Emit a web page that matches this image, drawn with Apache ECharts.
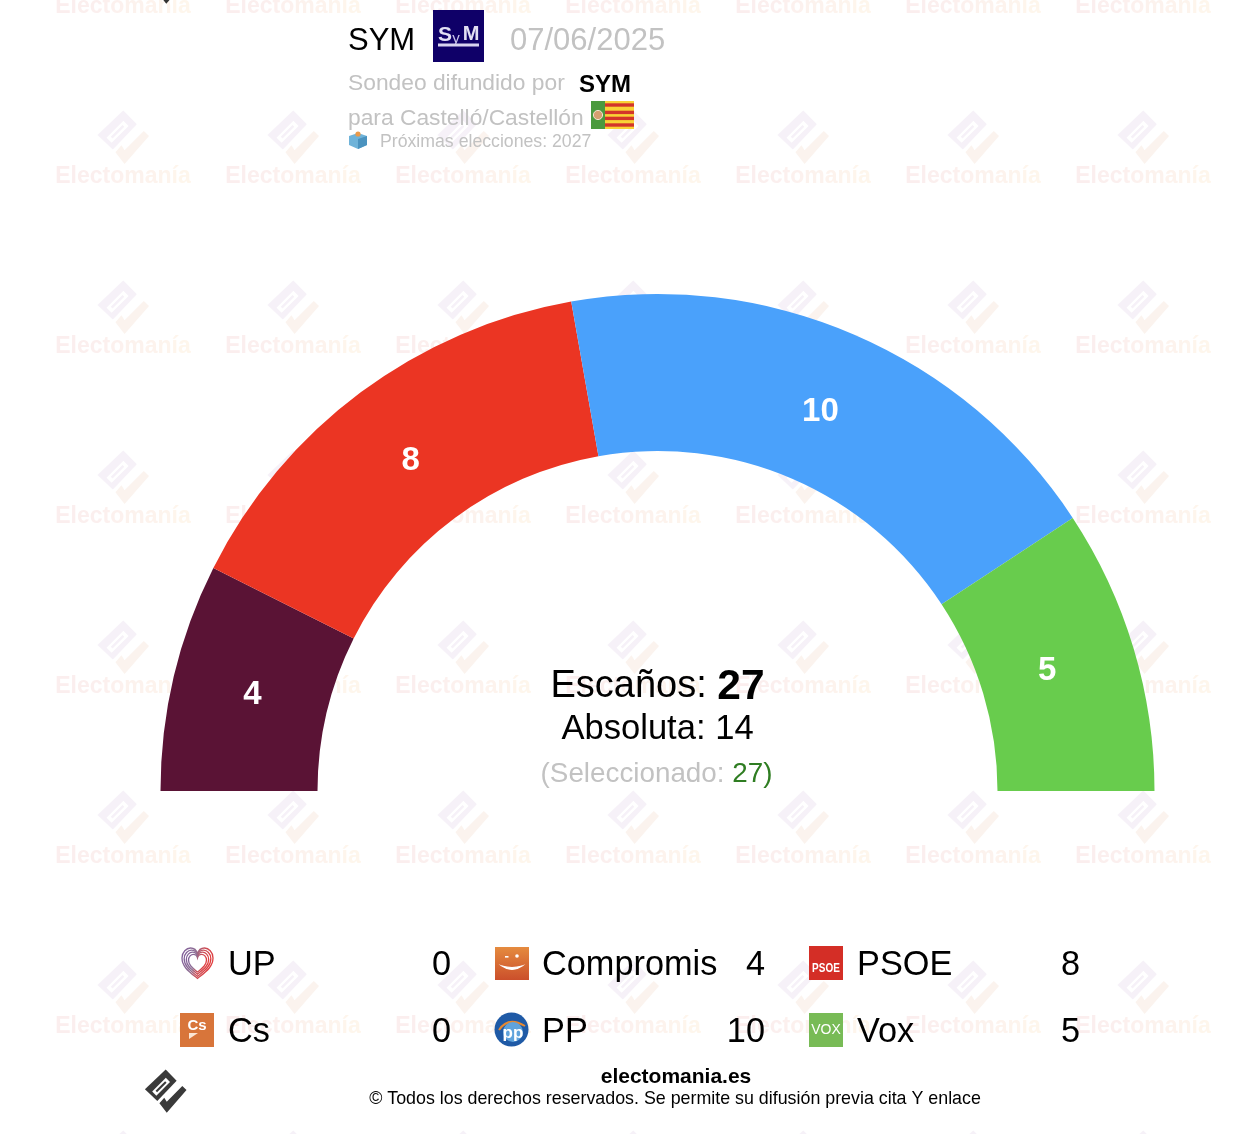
<!DOCTYPE html>
<html><head><meta charset="utf-8">
<style>html,body{margin:0;padding:0;background:#fff}#c{width:1236px;height:1134px}</style>
<script src="https://cdn.jsdelivr.net/npm/echarts@6/dist/echarts.min.js"></script>
</head><body><div id="c"></div>
<script>
const partyNames = ['UP','Compromis','PSOE','Cs','PP','Vox'];
const partySeats = [0,4,8,0,10,5];
const arcOrder = ['Compromis','PSOE','PP','Vox'];
const arcColors = ['#5A1335','#EB3523','#4AA1FB','#68CC4D'];
const totalSeats = 27, majority = 14, selected = 27;
const pollster = 'SYM', pollDate = '07/06/2025', place = 'para Castelló/Castellón', nextElection = 'Próximas elecciones: 2027';
const watermark = 'Electomanía';
const watermarkShades = ['#fbeeee','#fbeeee','#fbefee','#fbefee','#fcf0ee','#fcf1ee','#fcf2ed','#fdf3ed','#fdf4ed','#fef5ec','#fef6ec'];

const FONT = '"Liberation Sans", Arial, sans-serif';
const G = echarts.graphic;
const vGrad = (a,b)=>new G.LinearGradient(0,0,0,1,[{offset:0,color:a},{offset:1,color:b}]);
G.registerShape('heart', G.extendPath('M0,15.5 C-8,9 -15.5,4 -15.5,-5 C-15.5,-11 -11,-15 -7,-15 C-4,-15 -1,-13 0,-9 C1,-13 4,-15 7,-15 C11,-15 15.5,-11 15.5,-5 C15.5,4 8,9 0,15.5Z'));
G.registerShape('smile', G.extendPath('M502,966 Q512,973 522,966 Q512,969 502,966Z'));
G.registerShape('ppArc', G.extendPath('M499,1030 Q508,1016 525,1026'));
const els = [];
const txt = (x,y,text,size,fill,o={})=>els.push({type:'text',z:o.z||5,x,y,scaleY:o.sy||1,silent:true,style:Object.assign({text,fontFamily:FONT,fontSize:size,fontWeight:o.w||'normal',fill,align:o.a||'left',verticalAlign:'middle'},o.s||{})});
const rect = (x,y,w,h,fill,z=5)=>els.push({type:'rect',z,silent:true,shape:{x,y,width:w,height:h},style:{fill}});
const poly = (pts,fill,z=5)=>els.push({type:'polygon',z,silent:true,shape:{points:pts},style:{fill}});

function bar(cx,cy,L,S){const a=.707;return [[cx+L*a+S*a,cy-L*a+S*a],[cx+L*a-S*a,cy-L*a-S*a],[cx-L*a-S*a,cy+L*a-S*a],[cx-L*a+S*a,cy+L*a+S*a]];}
function logo(cx,cy,h,c1,c2,z){
  const p=a=>a.map(q=>[cx+q[0]*h,cy+q[1]*h]);
  poly(p([[.01,-1],[.53,-.47],[-.39,.5],[-.98,-.06]]),c1,z);
  poly(p(bar(-.21,-.18,.46,.14)),'#fff',z);
  poly(p(bar(-.21,-.18,.32,.05)),c1,z);
  poly(p([[1,-.02],[.8,-.21],[.06,.53],[-.06,.34],[-.29,.61],[.06,1.06]]),c2,z);
}
// watermark
const wmRich={};
watermarkShades.forEach((c,i)=>wmRich['k'+i]={fontFamily:FONT,fontSize:23,fontWeight:'bold',fill:c});
const wmText=[...watermark].map((ch,i)=>'{k'+i+'|'+ch+'}').join('');
for(let r=0;r<7;r++)for(let c=0;c<7;c++){
  const x=123+170*c,y=7+170*r;
  els.push({type:'text',z:1,silent:true,x,y,style:{text:wmText,align:'center',verticalAlign:'middle',fontFamily:FONT,rich:wmRich}});
  logo(x,y+129.5,26,'#f6f1f8','#fbf3ee',1);
}
logo(165,-18.5,21,'#333','#333',6);
logo(165.5,1090.5,21,'#3a3a3a','#3a3a3a',6);

// header
txt(348,41.5,pollster,31,'#000');
rect(433,10,51,52,'#0f0068');
txt(445,35,'S',21,'#e2dff3',{w:'bold',a:'center'});
txt(456,39,'y',15,'#c9c4ea',{a:'center'});
txt(471,34,'M',20,'#e2dff3',{w:'bold',a:'center'});
rect(438,43.5,41,3,'#d8d4ef');
txt(510,41.5,pollDate,31,'#c2c2c2');
txt(348,84,'Sondeo difundido por',22.8,'#c2c2c2');
txt(579,85,pollster,24,'#000',{w:'bold'});
txt(348,119,place,22.8,'#c2c2c2');
rect(591,101,43,28,'#f9d335');
[103.3,110.7,116.7,123.3].forEach(y=>rect(605,y,29,3.4,'#d3352a'));
rect(591,101,14,28,'#4b9a3e');
els.push({type:'circle',z:5,silent:true,shape:{cx:598,cy:115,r:4.6},style:{fill:'#d6a070',stroke:'#f3e3d0',lineWidth:1}});
// ballot box
poly([[349,136],[358,133],[367,136],[367,145],[358,149],[349,145]],'#6fb3d9');
poly([[358,139],[367,136],[367,145],[358,149]],'#4b93bf');
els.push({type:'circle',z:5,silent:true,shape:{cx:358,cy:134,r:2.6},style:{fill:'#ea9a4a'}});
txt(380,142,nextElection,17.7,'#c2c2c2');

// centre
els.push({type:'text',z:5,silent:true,x:657.5,y:687,style:{text:'{a|Escaños: }{b|'+totalSeats+'}',align:'center',verticalAlign:'middle',fontFamily:FONT,rich:{a:{fontFamily:FONT,fontSize:38,fill:'#000'},b:{fontFamily:FONT,fontSize:42.5,fontWeight:'bold',fill:'#000'}}}});
txt(657.5,729,'Absoluta: '+majority,34.6,'#000',{a:'center'});
els.push({type:'text',z:5,silent:true,x:656.5,y:774.5,style:{text:'{a|(Seleccionado: }{b|'+selected+'}{c|)}',align:'center',verticalAlign:'middle',fontFamily:FONT,rich:{a:{fontFamily:FONT,fontSize:27.8,fill:'#c2c2c2'},b:{fontFamily:FONT,fontSize:27.8,fill:'#2f7d22'},c:{fontFamily:FONT,fontSize:27.8,fill:'#2f7d22'}}}});

// legend
const nameX=[228,542,857], valX=[451,765,1080], rowY=[966,1033];
partyNames.forEach((n,i)=>{
  const c=i%3,r=Math.floor(i/3);
  txt(nameX[c],rowY[r],n,34.3,'#000');
  txt(valX[c],rowY[r],String(partySeats[i]),34.3,'#000',{a:'right'});
});
// UP heart
[1,.86,.72,.58].forEach(s=>els.push({type:'heart',z:5,silent:true,x:197.5,y:963,scaleX:s,scaleY:s,shape:{},style:{fill:'none',lineWidth:1.3/s,stroke:new G.LinearGradient(0,0,1,.3,[{offset:0,color:'#7d5a9e'},{offset:.45,color:'#8f6f93'},{offset:.65,color:'#c9505a'},{offset:1,color:'#e23b3b'}])}}));
// Compromis
els.push({type:'rect',z:5,silent:true,shape:{x:495,y:947,width:34,height:33},style:{fill:vGrad('#e58b3f','#cb4f2b')}});
els.push({type:'smile',z:5,silent:true,shape:{},style:{fill:'#fff',stroke:'#fff',lineWidth:1.2}});
rect(505,956,3.5,1.6,'#fff');
els.push({type:'circle',z:5,silent:true,shape:{cx:517,cy:956,r:1.8},style:{fill:'#fff'}});
// PSOE
rect(809,946,34,34,'#d42e26');
txt(826,968,'PSOE',10,'#fff',{w:'bold',a:'center',sy:1.35});
// Cs
rect(180,1013,34,34,'#d8753a');
txt(197,1026,'Cs',15,'#fff',{w:'bold',a:'center'});
poly([[189,1033],[198,1033],[189,1039]],'#fbe6d4');
// PP
els.push({type:'circle',z:5,silent:true,shape:{cx:511.5,cy:1029.5,r:17},style:{fill:'#1f5aa6'}});
els.push({type:'ppArc',z:5,silent:true,shape:{},style:{fill:'none',stroke:'#e8892f',lineWidth:2}});
els.push({type:'circle',z:5,silent:true,shape:{cx:513,cy:1032,r:10},style:{fill:'#5fa3dc'}});
txt(513,1033,'pp',17,'#fff',{w:'bold',a:'center'});
// Vox
rect(809,1013,34,34,'#78bb56');
txt(826,1030.5,'VOX',14,'#fff',{a:'center'});

// footer
txt(676,1077,'electomania.es',21,'#000',{w:'bold',a:'center'});
txt(675,1099,'© Todos los derechos reservados. Se permite su difusión previa cita Y enlace',17.84,'#000',{a:'center'});

const labelNudges=[[5,1],[5,8],[-4,8],[-14,1]];
const chart=echarts.init(document.getElementById('c'),null,{renderer:'canvas',width:1236,height:1134});
chart.setOption({
  animation:false,backgroundColor:'#fff',
  graphic:{elements:els},
  series:[{type:'pie',z:3,silent:true,center:[657.5,791],radius:[340,497],startAngle:180,endAngle:360,clockwise:true,
    itemStyle:{borderWidth:0},
    label:{show:true,position:'inside',formatter:'{c}',color:'#fff',fontFamily:FONT,fontSize:33,fontWeight:'bold'},
    labelLine:{show:false},
    data:arcOrder.map((n,i)=>({name:n,value:partySeats[partyNames.indexOf(n)],itemStyle:{color:arcColors[i]},label:{offset:labelNudges[i]}}))}]
});
</script></body></html>
